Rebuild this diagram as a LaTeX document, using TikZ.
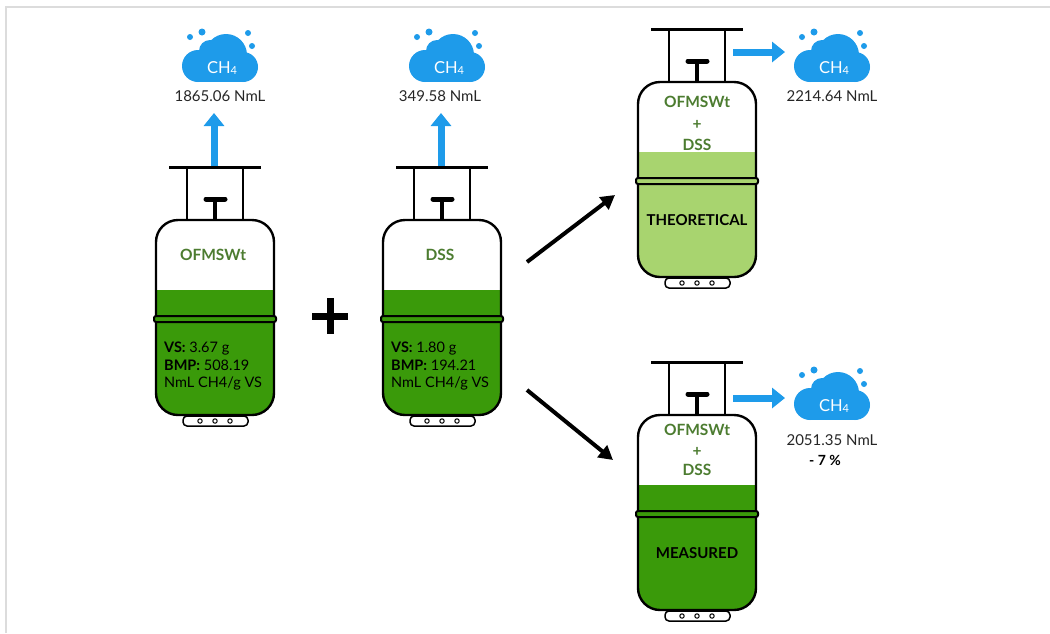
\documentclass[tikz,border=0pt]{standalone}
\usepackage{fontspec}
\setmainfont{Lato}
\usetikzlibrary{arrows.meta}

\definecolor{gasblue}{HTML}{1E9BEA}
\definecolor{darkfill}{HTML}{3A9A0A}
\definecolor{lightfill}{HTML}{A8D46F}
\definecolor{labelgreen}{HTML}{4C7C30}
\definecolor{framegray}{HTML}{DCDCDC}

\tikzset{
  outline/.style={line width=2.4pt, draw=black},
  post/.style={line width=2pt, draw=black},
  blueflow/.style={line width=7pt, draw=gasblue, -{Triangle[width=20pt,length=13pt]}},
  blackflow/.style={line width=4pt, draw=black, -{Triangle[width=15pt,length=14pt]}},
  valuetext/.style={font=\fontsize{15}{17}\selectfont, text=black!85, inner sep=0pt},
  tagtext/.style={font=\fontsize{15.5}{18}\selectfont\bfseries, text=labelgreen, inner sep=0pt},
  typetext/.style={font=\fontsize{15}{17}\selectfont\bfseries, text=black, inner sep=0pt},
  datatext/.style={font=\fontsize{14.5}{17.5}\selectfont, text=black, inner sep=0pt, align=left, anchor=north west},
  gastext/.style={font=\fontsize{16.5}{18}\selectfont, text=white, inner sep=0pt},
}

% gas cylinder: #1 = centre x, #2 = y of body top, #3 = liquid colour, #4 = name
\newcommand{\gascyl}[4]{%
  \begin{scope}[shift={(#1,#2)}]
    \node[inner sep=0pt, minimum width=118pt, minimum height=195pt, anchor=north] (#4) at (0,0) {};
    \coordinate (#4-top) at (0,-53);
    % liquid
    \begin{scope}
      \clip[rounded corners=22pt] (-59,0) rectangle (59,195);
      \fill[#3] (-60,70) rectangle (60,196);
    \end{scope}
    % handle frame
    \draw[post] (-28,-53) -- (-28,0);
    \draw[post] (28,-53) -- (28,0);
    \draw[line width=3pt] (-46,-53) -- (46,-53);
    % valve
    \draw[line width=4pt] (0,-21) -- (0,0);
    \draw[line width=5pt, line cap=round] (-9,-21) -- (10,-21);
    % body
    \draw[outline, rounded corners=22pt] (-59,0) rectangle (59,195);
    % band
    \draw[line width=2pt, fill=#3, rounded corners=2pt] (-61,96) rectangle (61,102);
    % foot
    \draw[line width=1.5pt, fill=white, rounded corners=4pt] (-32,196) rectangle (33,206);
    \foreach \dx in {-15,0,15} \draw[line width=1pt] (\dx,201) circle[radius=2.2pt];
  \end{scope}}

% methane cloud: #1 = centre x, #2 = cloud bottom y, #3 = name
\newcommand{\gascloud}[3]{%
  \begin{scope}[shift={(#1,#2)}]
    \fill[gasblue] (-22,-16) circle[radius=16pt];
    \fill[gasblue] (6,-27) circle[radius=21pt];
    \fill[gasblue] (23,-15) circle[radius=15pt];
    \fill[gasblue] (-10,-31) circle[radius=11pt];
    \fill[gasblue] (-22,-16) rectangle (23,0);
    \fill[gasblue] (-30,-45) circle[radius=3pt];
    \fill[gasblue] (-18,-50) circle[radius=3.5pt];
    \fill[gasblue] (28,-49) circle[radius=3pt];
    \fill[gasblue] (32,-36) circle[radius=3pt];
    \node[gastext] (#3) at (2,-14) {CH\raisebox{-1pt}{\fontsize{11}{11}\selectfont 4}};
  \end{scope}}

\begin{document}
\begin{tikzpicture}[x=1pt, y=-1pt]
  \useasboundingbox (0,0) rectangle (1050,633);
  \fill[white] (0,0) rectangle (1050,633);
  % page frame
  \draw[framegray, line width=2pt] (6,633) -- (6,7) -- (1050,7);

  % cylinders
  \gascyl{215}{220}{darkfill}{ofm}
  \gascyl{442}{220}{darkfill}{dss}
  \gascyl{697}{82}{lightfill}{theo}
  \gascyl{697}{415}{darkfill}{meas}

  % cylinder labels
  \node[tagtext] (ofmname) at (213,255) {OFMSWt};
  \node[datatext] (ofmdata) at (164,342) {\textbf{VS:} 3.67 g\\\textbf{BMP:} 508.19\\NmL CH4/g VS};
  \node[tagtext] (dssname) at (440,255) {DSS};
  \node[datatext] (dssdata) at (391,342) {\textbf{VS:} 1.80 g\\\textbf{BMP:} 194.21\\NmL CH4/g VS};

  \node[tagtext] (theoa) at (697,102) {OFMSWt};
  \node[tagtext] (theob) at (697,125) {+};
  \node[tagtext] (theoc) at (697,145) {DSS};
  \node[typetext] (theoname) at (697,220) {THEORETICAL};

  \node[tagtext] (measa) at (697,430) {OFMSWt};
  \node[tagtext] (measb) at (697,452) {+};
  \node[tagtext] (measc) at (697,470) {DSS};
  \node[typetext] (measname) at (697,553) {MEASURED};

  % clouds and yields
  \gascloud{220}{82}{gas1}
  \gascloud{447}{82}{gas2}
  \gascloud{832}{82}{gas3}
  \gascloud{832}{420}{gas4}
  \node[valuetext] (yield1) at (220,96) {1865.06 NmL};
  \node[valuetext] (yield2) at (440,96) {349.58 NmL};
  \node[valuetext] (yield3) at (832,96) {2214.64 NmL};
  \node[valuetext] (yield4) at (832,440) {2051.35 NmL};
  \node[valuetext, font=\fontsize{14}{16}\selectfont\bfseries, text=black] (loss) at (825,460) {- 7 \%};

  % gas flow arrows
  \coordinate (up1) at (214,113);
  \coordinate (up2) at (441,113);
  \draw[blueflow] (ofm-top) ++(-1,-1) -- (up1);
  \draw[blueflow] (dss-top) ++(-1,-1) -- (up2);
  \coordinate (out3a) at (733,52);
  \coordinate (out3b) at (785,52);
  \coordinate (out4a) at (733,398);
  \coordinate (out4b) at (785,398);
  \draw[blueflow] (out3a) -- (out3b);
  \draw[blueflow] (out4a) -- (out4b);

  % plus sign
  \coordinate (plusc) at (330,316);
  \draw[line width=7pt] (312,316) -- (348,316);
  \draw[line width=7pt] (330,298) -- (330,334);

  % mixing arrows
  \coordinate (mixup0) at (527,262);
  \coordinate (mixup1) at (615,195);
  \coordinate (mixdn0) at (527,390);
  \coordinate (mixdn1) at (613,460);
  \draw[blackflow] (mixup0) -- (mixup1);
  \draw[blackflow] (mixdn0) -- (mixdn1);
\end{tikzpicture}
\end{document}
